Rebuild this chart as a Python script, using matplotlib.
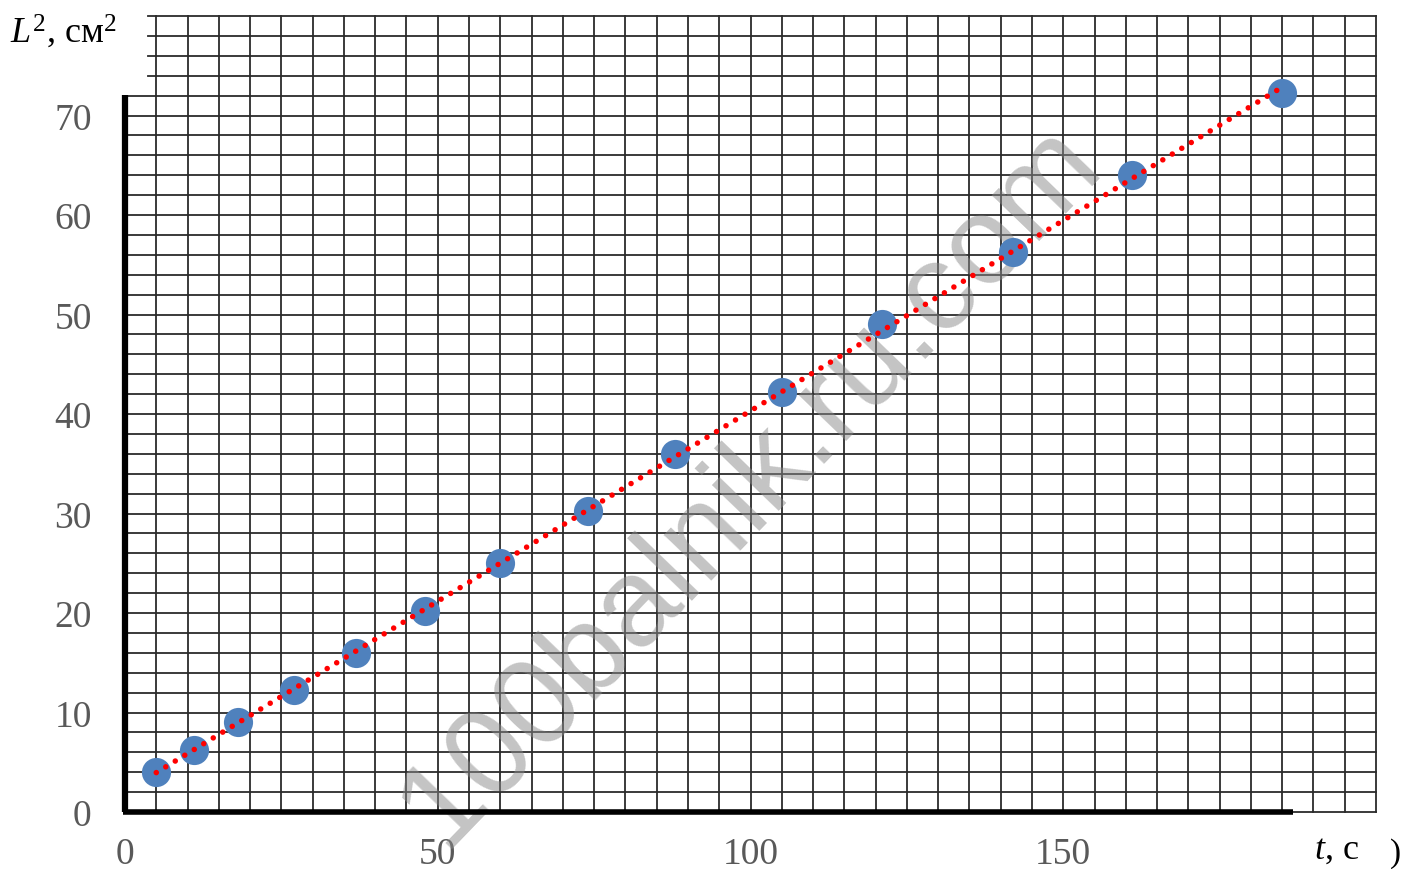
import numpy as np
import matplotlib
matplotlib.use("Agg")
import matplotlib.pyplot as plt

# ---- data ----
t_values = [5, 11, 18, 27, 37, 48, 60, 74, 88, 105, 121, 142, 161, 185]
L2_values = [4, 6.25, 9, 12.25, 16, 20.25, 25, 30.25, 36, 42.25, 49, 56.25, 64, 72.25]
x_ticks = [0, 50, 100, 150]
y_ticks = [0, 10, 20, 30, 40, 50, 60, 70]
y_label = "см"
x_label = "с"
watermark = "100balnik.ru.com"

plt.rcParams['mathtext.fontset'] = 'custom'
plt.rcParams['mathtext.rm'] = 'Liberation Serif'
plt.rcParams['mathtext.it'] = 'Liberation Serif:italic'

W, H = 1406, 870
fig = plt.figure(figsize=(W / 100, H / 100), dpi=100)
x0px, x1px = 125, 1376
y0px, y1px = 813, 17
ax = fig.add_axes([x0px / W, 1 - y0px / H, (x1px - x0px) / W, (y0px - y1px) / H])
ax.set_xlim(0, 200)
ax.set_ylim(0, 80)
for s in ax.spines.values():
    s.set_visible(False)

# paper grid
gc = '#2b2b2b'
for xv in np.arange(5, 201, 5):
    ax.plot([xv, xv], [0, 80], color=gc, lw=1.3, zorder=1, clip_on=False)
for yv in np.arange(0, 81, 2):
    xs = 0 if yv <= 72 else 3.7
    ax.plot([xs, 200], [yv, yv], color=gc, lw=1.3, zorder=1, clip_on=False)

# thick axes
ax.plot([0, 0], [0, 72.1], color='black', lw=4.5, zorder=3, clip_on=False, solid_capstyle='butt')
ax.plot([-0.3, 186.8], [0, 0], color='black', lw=4.0, zorder=3, clip_on=False, solid_capstyle='butt')

# watermark
ax.text(100, 33, watermark, fontsize=90, family='Liberation Sans', color='#8a8a8a',
        alpha=0.5, rotation=46, ha='center', va='center', zorder=2, clip_on=False)

# data
ax.plot(t_values, L2_values, 'o', color='#4F81BD', ms=21, mec='none', zorder=4, clip_on=False)

# linear trend
k, b = np.polyfit(t_values, L2_values, 1)
tx = np.array([min(t_values), max(t_values)])
ax.plot(tx, k * tx + b, color='red', lw=4.0, linestyle=(0, (0.001, 2.0)),
        dash_capstyle='round', zorder=5, clip_on=False)

# ticks
ax.set_xticks(x_ticks)
ax.set_yticks(y_ticks)
ax.tick_params(length=0, labelsize=27, labelcolor='#595959')
ax.tick_params(axis='y', pad=24)
ax.tick_params(axis='x', pad=18)
for lab in ax.get_xticklabels() + ax.get_yticklabels():
    lab.set_family('Liberation Serif')

# axis labels
fig.text(10 / W, 1 - 43 / H, r"$L^2$, " + y_label + r"$^2$", fontsize=26,
         family='Liberation Serif', color='black', va='baseline', ha='left')
fig.text(1314 / W, 1 - 859 / H, r"$t$, " + x_label, fontsize=26,
         family='Liberation Serif', color='black', va='baseline', ha='left')
fig.text(1390 / W, 1 - 862 / H, ")", fontsize=24,
         family='Liberation Serif', color='black', va='baseline', ha='left')

fig.savefig("out.png", dpi=100)
